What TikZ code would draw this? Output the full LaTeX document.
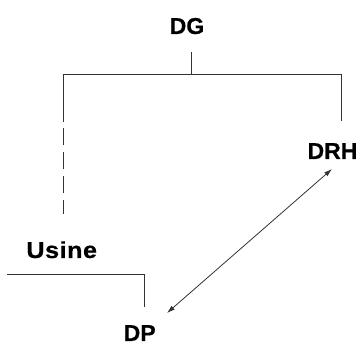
\documentclass[tikz,border=0pt]{standalone}
\usepackage{fontspec}
\setmainfont{Liberation Sans}[BoldFeatures={FakeBold=0.5}]
\usetikzlibrary{arrows.meta}
\begin{document}
\begin{tikzpicture}[x=1pt,y=-1pt,
  label/.style={font=\fontsize{23}{27}\selectfont\bfseries, inner sep=0pt, anchor=base},
  wire/.style={line width=1pt, draw=black!80},
  dashwire/.style={wire, dash pattern=on 17pt off 7pt},
  link/.style={line width=0.8pt, draw=black!80, {Latex[length=8pt,width=5pt]}-{Latex[length=8pt,width=5pt]}}]
  \useasboundingbox (0,0) rectangle (357,344);
  % units
  \node[label] (dg) at (187,34) {DG};
  \node[label] (drh) at (332.5,159) {DRH};
  \node[label] (usine) at (61.7,258) {\addfontfeature{FakeStretch=1.1,LetterSpace=2}Usine};
  \node[label] (dp) at (139.7,341) {DP};
  % tree under DG
  \coordinate (dgfoot) at (191,52);
  \coordinate (bar) at (191,75);
  \coordinate (barl) at (63,75);
  \coordinate (barr) at (341,75);
  \coordinate (drhtop) at (341,121);
  \coordinate (solidend) at (63,122);
  \coordinate (dashstart) at (63,128);
  \coordinate (usinetop) at (63,214);
  \draw[wire] (dgfoot) -- (bar);
  \draw[wire] (drhtop) -- (barr) -- (barl) -- (solidend);
  \draw[dashwire] (dashstart) -- (usinetop);
  % line from Usine to DP
  \coordinate (uleft) at (7,275);
  \coordinate (ucorner) at (144,275);
  \coordinate (dptop) at (144,307);
  \draw[wire] (uleft) -- (ucorner) -- (dptop);
  % two-way link DRH <-> DP
  \coordinate (drhtip) at (332,169);
  \coordinate (dptip) at (167,313);
  \draw[link] (dptip) -- (drhtip);
\end{tikzpicture}
\end{document}
